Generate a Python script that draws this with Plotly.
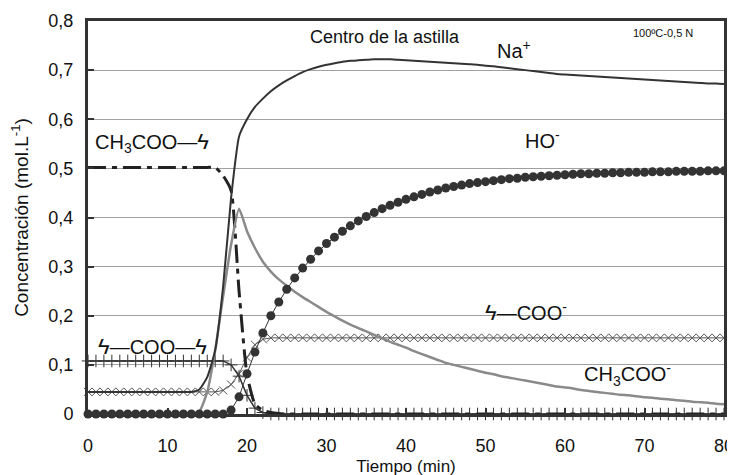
import plotly.graph_objects as go

# ---------------- data ----------------
time_min = [0, 1, 2, 3, 4, 5, 6, 7, 8, 9, 10, 11, 12, 13, 14, 15, 16, 17, 18, 19,
            20, 21, 22, 23, 24, 25, 26, 27, 28, 29, 30, 31, 32, 33, 34, 35, 36, 37, 38, 39,
            40, 41, 42, 43, 44, 45, 46, 47, 48, 49, 50, 51, 52, 53, 54, 55, 56, 57, 58, 59,
            60, 61, 62, 63, 64, 65, 66, 67, 68, 69, 70, 71, 72, 73, 74, 75, 76, 77, 78, 79, 80]

na_plus = [0.045, 0.045, 0.045, 0.045, 0.045, 0.045, 0.045, 0.045, 0.045, 0.045,
           0.045, 0.045, 0.045, 0.045, 0.05, 0.075, 0.13, 0.26, 0.44, 0.565,
           0.60, 0.625, 0.642, 0.657, 0.669, 0.679, 0.688, 0.696, 0.702, 0.707,
           0.711, 0.714, 0.717, 0.719, 0.72, 0.721, 0.722, 0.722, 0.722, 0.721,
           0.72, 0.719, 0.718, 0.717, 0.716, 0.715, 0.714, 0.713, 0.712, 0.711,
           0.709, 0.708, 0.706, 0.704, 0.702, 0.70, 0.698, 0.696, 0.694, 0.692,
           0.691, 0.69, 0.689, 0.688, 0.687, 0.686, 0.685, 0.684, 0.683, 0.682,
           0.681, 0.68, 0.679, 0.678, 0.677, 0.676, 0.675, 0.674, 0.673, 0.673, 0.672]

ho_minus = [0, 0, 0, 0, 0, 0, 0, 0, 0, 0, 0, 0, 0, 0, 0, 0, 0, 0, 0.008, 0.035,
            0.082, 0.126, 0.165, 0.2, 0.228, 0.254, 0.277, 0.297, 0.315, 0.332,
            0.347, 0.36, 0.372, 0.383, 0.393, 0.402, 0.41, 0.418, 0.425, 0.431,
            0.437, 0.442, 0.447, 0.452, 0.456, 0.46, 0.463, 0.466, 0.469, 0.471,
            0.473, 0.475, 0.477, 0.479, 0.48, 0.482, 0.483, 0.484, 0.485, 0.486,
            0.487, 0.488, 0.489, 0.489, 0.49, 0.49, 0.491, 0.491, 0.492, 0.492,
            0.492, 0.493, 0.493, 0.493, 0.494, 0.494, 0.494, 0.494, 0.495, 0.495, 0.495]

acetate_free = [0, 0, 0, 0, 0, 0, 0, 0, 0, 0, 0, 0, 0, 0, 0.005, 0.045, 0.13, 0.24, 0.345, 0.418,
                0.372, 0.338, 0.31, 0.29, 0.274, 0.261, 0.249, 0.238, 0.228, 0.218,
                0.208, 0.199, 0.19, 0.182, 0.175, 0.168, 0.161, 0.154, 0.147, 0.141,
                0.135, 0.128, 0.122, 0.116, 0.11, 0.104, 0.10, 0.096, 0.092, 0.088,
                0.084, 0.081, 0.077, 0.074, 0.071, 0.068, 0.065, 0.062, 0.059, 0.056,
                0.054, 0.052, 0.049, 0.047, 0.045, 0.043, 0.041, 0.039, 0.038, 0.036,
                0.034, 0.033, 0.031, 0.03, 0.028, 0.027, 0.025, 0.024, 0.023, 0.021, 0.02]

wood_coo = [0.045, 0.045, 0.045, 0.045, 0.045, 0.045, 0.045, 0.045, 0.045, 0.045,
            0.045, 0.045, 0.045, 0.045, 0.045, 0.045, 0.045, 0.048, 0.06, 0.082,
            0.115, 0.141, 0.152, 0.155, 0.155, 0.155, 0.155, 0.155, 0.155, 0.155,
            0.155, 0.155, 0.155, 0.155, 0.155, 0.155, 0.155, 0.155, 0.155, 0.155,
            0.155, 0.155, 0.155, 0.155, 0.155, 0.155, 0.155, 0.155, 0.155, 0.155,
            0.155, 0.155, 0.155, 0.155, 0.155, 0.155, 0.155, 0.155, 0.155, 0.155,
            0.155, 0.155, 0.155, 0.155, 0.155, 0.155, 0.155, 0.155, 0.155, 0.155,
            0.155, 0.155, 0.155, 0.155, 0.155, 0.155, 0.155, 0.155, 0.155, 0.155, 0.155]

wood_ester = [0.108, 0.108, 0.108, 0.108, 0.108, 0.108, 0.108, 0.108, 0.108, 0.108,
              0.108, 0.108, 0.108, 0.108, 0.108, 0.108, 0.108, 0.108, 0.10, 0.077,
              0.038, 0.012, 0.003, 0, 0, 0, 0, 0, 0, 0, 0, 0, 0, 0, 0, 0, 0, 0, 0, 0,
              0, 0, 0, 0, 0, 0, 0, 0, 0, 0, 0, 0, 0, 0, 0, 0, 0, 0, 0, 0,
              0, 0, 0, 0, 0, 0, 0, 0, 0, 0, 0, 0, 0, 0, 0, 0, 0, 0, 0, 0, 0]

acetyl_wood = [0.502, 0.502, 0.502, 0.502, 0.502, 0.502, 0.502, 0.502, 0.502, 0.502,
               0.502, 0.502, 0.502, 0.502, 0.502, 0.502, 0.502, 0.485, 0.455, 0.25,
               0.08, 0.02, 0.007, 0.003, 0.001, 0, 0, 0, 0, 0, 0, 0, 0, 0, 0, 0, 0, 0, 0, 0,
               0, 0, 0, 0, 0, 0, 0, 0, 0, 0, 0, 0, 0, 0, 0, 0, 0, 0, 0, 0,
               0, 0, 0, 0, 0, 0, 0, 0, 0, 0, 0, 0, 0, 0, 0, 0, 0, 0, 0, 0, 0]

y_tickvals = [0, 0.1, 0.2, 0.3, 0.4, 0.5, 0.6, 0.7, 0.8]
y_ticktext = ["0", "0,1", "0,2", "0,3", "0,4", "0,5", "0,6", "0,7", "0,8"]
x_tickvals = [0, 10, 20, 30, 40, 50, 60, 70, 80]

# ---------------- styles ----------------
DARK = "#333333"
GRAY = "#8a8a8a"
FONT = "Liberation Sans, Arial, sans-serif"
BRK = "<span style='font-size:22px'>ϟ</span>"

fig = go.Figure()

fig.add_trace(go.Scatter(
    x=time_min, y=wood_coo, mode="lines+markers",
    line=dict(color="#555555", width=1),
    marker=dict(symbol="x-thin", size=8, line=dict(color="#555555", width=1)),
    cliponaxis=False, showlegend=False))

fig.add_trace(go.Scatter(
    x=time_min, y=wood_ester, mode="lines+markers",
    line=dict(color=DARK, width=1.5),
    marker=dict(symbol="cross-thin", size=9, line=dict(color=DARK, width=1)),
    cliponaxis=False, showlegend=False))

fig.add_trace(go.Scatter(
    x=time_min, y=acetyl_wood, mode="lines",
    line=dict(color="#222222", width=3, dash="18px,6px,5px,6px", shape="spline", smoothing=0.5),
    showlegend=False))

fig.add_trace(go.Scatter(
    x=time_min, y=acetate_free, mode="lines",
    line=dict(color=GRAY, width=2.5, shape="spline", smoothing=0.5),
    showlegend=False))

fig.add_trace(go.Scatter(
    x=time_min, y=na_plus, mode="lines",
    line=dict(color=DARK, width=2, shape="spline", smoothing=0.5),
    showlegend=False))

fig.add_trace(go.Scatter(
    x=time_min, y=ho_minus, mode="lines+markers",
    line=dict(color=DARK, width=1),
    marker=dict(symbol="circle", size=9, color=DARK),
    cliponaxis=False, showlegend=False))

annots = [
    dict(x=37.4, y=0.768, text="Centro de la astilla", size=18, xanchor="center"),
    dict(x=51.2, y=0.742, text="Na<sup>+</sup>", size=20, xanchor="left"),
    dict(x=68.3, y=0.776, text="100ºC-0,5 N", size=11, xanchor="left"),
    dict(x=54.7, y=0.558, text="HO<sup>-</sup>", size=20, xanchor="left"),
    dict(x=0.6, y=0.552, text="CH<sub>3</sub>COO—" + BRK, size=20, xanchor="left"),
    dict(x=1.0, y=0.138, text=BRK + "—COO—" + BRK, size=20, xanchor="left"),
    dict(x=49.7, y=0.208, text=BRK + "—COO<sup>-</sup>", size=20, xanchor="left"),
    dict(x=62.2, y=0.08, text="CH<sub>3</sub>COO<sup>-</sup>", size=20, xanchor="left"),
]
for a in annots:
    fig.add_annotation(x=a["x"], y=a["y"], text=a["text"], showarrow=False,
                       xanchor=a["xanchor"], yanchor="middle",
                       font=dict(family=FONT, size=a["size"], color="#111111"))

# the page body adds an 8px offset; margins are set so the plot lands where the reference has it
fig.update_layout(
    width=735, height=475,
    margin=dict(l=80, r=19, t=13, b=69, autoexpand=False),
    paper_bgcolor="white", plot_bgcolor="white",
    font=dict(family=FONT, color="#111111"),
    showlegend=False,
)

fig.update_xaxes(
    range=[0, 80], tickvals=x_tickvals, automargin=False,
    showgrid=False, zeroline=False,
    showline=True, linecolor=DARK, linewidth=3, mirror=True,
    ticks="inside", ticklen=6, tickwidth=1.5, tickcolor=DARK,
    tickfont=dict(family=FONT, size=18, color="#111111"),
    ticklabelstandoff=13,
    title=dict(text="Tiempo (min)", font=dict(family=FONT, size=17, color="#111111"), standoff=6),
)
fig.update_yaxes(
    range=[0, 0.8], tickvals=y_tickvals, ticktext=y_ticktext, automargin=False,
    showgrid=True, gridcolor="#a0a0a0", gridwidth=1, zeroline=False,
    showline=True, linecolor=DARK, linewidth=3, mirror=True,
    ticks="inside", ticklen=6, tickwidth=1.5, tickcolor=DARK,
    tickfont=dict(family=FONT, size=18, color="#111111"),
    ticklabelstandoff=8,
    title=dict(text="Concentración (mol.L<sup>-1</sup>)", font=dict(family=FONT, size=19, color="#111111"), standoff=15),
)

fig.write_html("out.html")
